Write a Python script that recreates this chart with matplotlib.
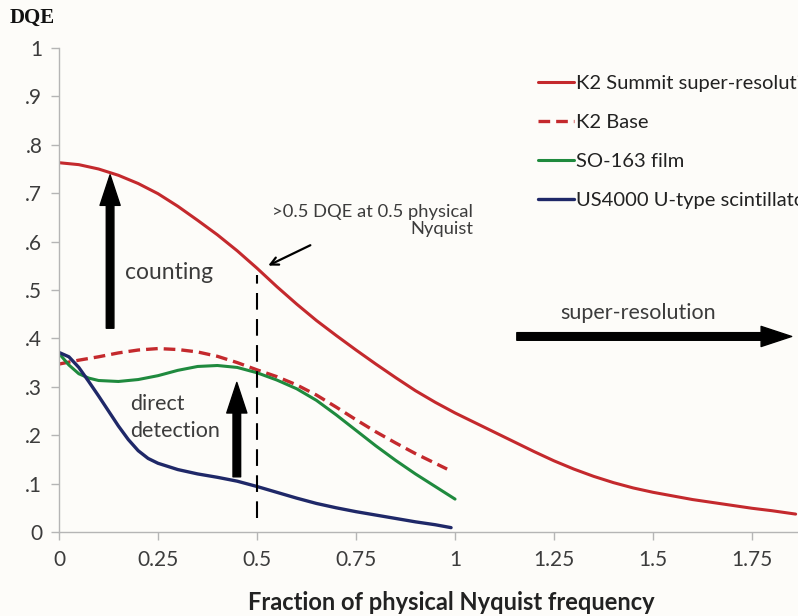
"""DQE vs. fraction of physical Nyquist frequency for several detectors."""

import matplotlib

matplotlib.use("Agg")
import matplotlib.pyplot as plt

# ---- data ----
k2_summit_x = [0, 0.05, 0.1, 0.15, 0.2, 0.25, 0.3, 0.35, 0.4, 0.45, 0.5, 0.55,
               0.6, 0.65, 0.7, 0.75, 0.8, 0.85, 0.9, 0.95, 1.0, 1.05, 1.1,
               1.15, 1.2, 1.25, 1.3, 1.35, 1.4, 1.45, 1.5, 1.6, 1.7, 1.75,
               1.8, 1.86]
k2_summit_y = [0.763, 0.759, 0.750, 0.737, 0.720, 0.699, 0.673, 0.644, 0.614,
               0.581, 0.545, 0.507, 0.471, 0.437, 0.406, 0.376, 0.347, 0.319,
               0.292, 0.268, 0.246, 0.226, 0.206, 0.186, 0.166, 0.147, 0.130,
               0.115, 0.102, 0.091, 0.082, 0.067, 0.055, 0.049, 0.044, 0.037]

k2_base_x = [0, 0.05, 0.1, 0.15, 0.2, 0.25, 0.3, 0.35, 0.4, 0.45, 0.5, 0.55,
             0.6, 0.65, 0.7, 0.75, 0.8, 0.85, 0.9, 0.95, 0.98]
k2_base_y = [0.347, 0.355, 0.362, 0.370, 0.376, 0.379, 0.377, 0.372, 0.363,
             0.350, 0.335, 0.321, 0.304, 0.283, 0.258, 0.232, 0.207, 0.184,
             0.162, 0.142, 0.130]

film_x = [0, 0.025, 0.05, 0.075, 0.1, 0.15, 0.2, 0.25, 0.3, 0.35, 0.4, 0.45,
          0.5, 0.55, 0.6, 0.65, 0.7, 0.75, 0.8, 0.85, 0.9, 0.95, 1.0]
film_y = [0.369, 0.345, 0.327, 0.318, 0.313, 0.311, 0.315, 0.323, 0.334,
          0.342, 0.344, 0.340, 0.329, 0.314, 0.296, 0.272, 0.242, 0.210,
          0.178, 0.148, 0.120, 0.094, 0.068]

ccd_x = [0, 0.025, 0.05, 0.075, 0.1, 0.125, 0.15, 0.175, 0.2, 0.225, 0.25,
         0.3, 0.35, 0.4, 0.45, 0.5, 0.55, 0.6, 0.65, 0.7, 0.75, 0.8, 0.85,
         0.9, 0.95, 0.99]
ccd_y = [0.371, 0.362, 0.340, 0.311, 0.281, 0.250, 0.219, 0.191, 0.168,
         0.152, 0.142, 0.129, 0.120, 0.113, 0.105, 0.094, 0.082, 0.070,
         0.059, 0.050, 0.042, 0.035, 0.028, 0.021, 0.015, 0.009]

series_labels = ["K2 Summit super-resolution", "K2 Base", "SO-163 film",
                 "US4000 U-type scintillator"]

x_ticks = [0, 0.25, 0.5, 0.75, 1, 1.25, 1.5, 1.75]
x_tick_labels = ["0", "0.25", "0.5", "0.75", "1", "1.25", "1.5", "1.75"]
y_ticks = [0, 0.1, 0.2, 0.3, 0.4, 0.5, 0.6, 0.7, 0.8, 0.9, 1.0]
y_tick_labels = ["0", ".1", ".2", ".3", ".4", ".5", ".6", ".7", ".8", ".9", "1"]

RED = "#c4292d"
GREEN = "#1f8a3e"
NAVY = "#1f2868"
GREY_TXT = "#3c3c3c"
BG = "#fdfcf9"

plt.rcParams["font.family"] = ["Lato", "DejaVu Sans"]

fig = plt.figure(figsize=(7.98, 6.16), dpi=100, facecolor=BG)
ax = fig.add_axes([59 / 798, 84 / 616, 739 / 798, 484 / 616], facecolor=BG)

line_kw = dict(solid_joinstyle="round", solid_capstyle="round")
ax.plot(k2_summit_x, k2_summit_y, color=RED, lw=2.2, label=series_labels[0],
        **line_kw)
ax.plot(k2_base_x, k2_base_y, color=RED, lw=2.4, dashes=(3.5, 1.8),
        label=series_labels[1])
ax.plot(film_x, film_y, color=GREEN, lw=2.2, label=series_labels[2],
        **line_kw)
ax.plot(ccd_x, ccd_y, color=NAVY, lw=2.4, label=series_labels[3], **line_kw)

ax.set_xlim(0, 1.866)
ax.set_ylim(0, 1)
ax.set_xticks(x_ticks, x_tick_labels)
ax.set_yticks(y_ticks, y_tick_labels)
ax.tick_params(axis="both", colors="#b5b5b5", labelcolor=GREY_TXT,
               labelsize=15, length=6, width=1)
ax.tick_params(axis="x", pad=7)
ax.tick_params(axis="y", pad=6)
for side in ("top", "right"):
    ax.spines[side].set_visible(False)
for side in ("left", "bottom"):
    ax.spines[side].set_color("#b5b5b5")
    ax.spines[side].set_linewidth(1)

ax.set_xlabel("Fraction of physical Nyquist frequency", fontsize=17,
              fontweight="bold", color="#222222", va="top")
ax.xaxis.set_label_coords((451 - 59) / 739, -0.122)
fig.text(10 / 798, 1 - 8 / 616, "DQE", family="Liberation Serif",
         fontweight="bold", fontsize=15, va="top", ha="left", color="#111111")

# annotations
ax.plot([0.501, 0.501], [0.029, 0.531], color="black", lw=1.5,
        dashes=(8, 4.5))
ax.text(1.046, 0.678, ">0.5 DQE at 0.5 physical\nNyquist", ha="right",
        va="top", fontsize=13.2, color=GREY_TXT, multialignment="right",
        linespacing=1.12)
ax.annotate("", xy=(0.522, 0.548), xytext=(0.641, 0.595),
            arrowprops=dict(arrowstyle="->", lw=1.6, color="black",
                            mutation_scale=14))

thick = dict(width=5.5, headwidth=14.5, headlength=22, color="black",
             shrink=0)
ax.annotate("", xy=(0.129, 0.738), xytext=(0.129, 0.421), arrowprops=thick)
ax.annotate("", xy=(0.449, 0.309), xytext=(0.449, 0.114), arrowprops=thick)
ax.annotate("", xy=(1.850, 0.404), xytext=(1.156, 0.404), arrowprops=thick,
            annotation_clip=False)

ax.text(0.167, 0.537, "counting", fontsize=16.5, color=GREY_TXT, va="center",
        ha="left")
ax.text(0.180, 0.236, "direct\ndetection", fontsize=15.5, color=GREY_TXT,
        va="center", ha="left", linespacing=1.45)
ax.text(1.461, 0.453, "super-resolution", fontsize=15.5, color=GREY_TXT,
        va="center", ha="center")

# legend runs off the right edge, as in the original figure
leg = ax.legend(loc="upper left", bbox_to_anchor=(0.648, 0.945),
                frameon=False, fontsize=14.5, handlelength=1.8,
                handletextpad=0.1, labelspacing=1.09, borderpad=0,
                borderaxespad=0)
for t in leg.get_texts():
    t.set_color("#222222")

fig.savefig("out.png", dpi=100, facecolor=BG)
